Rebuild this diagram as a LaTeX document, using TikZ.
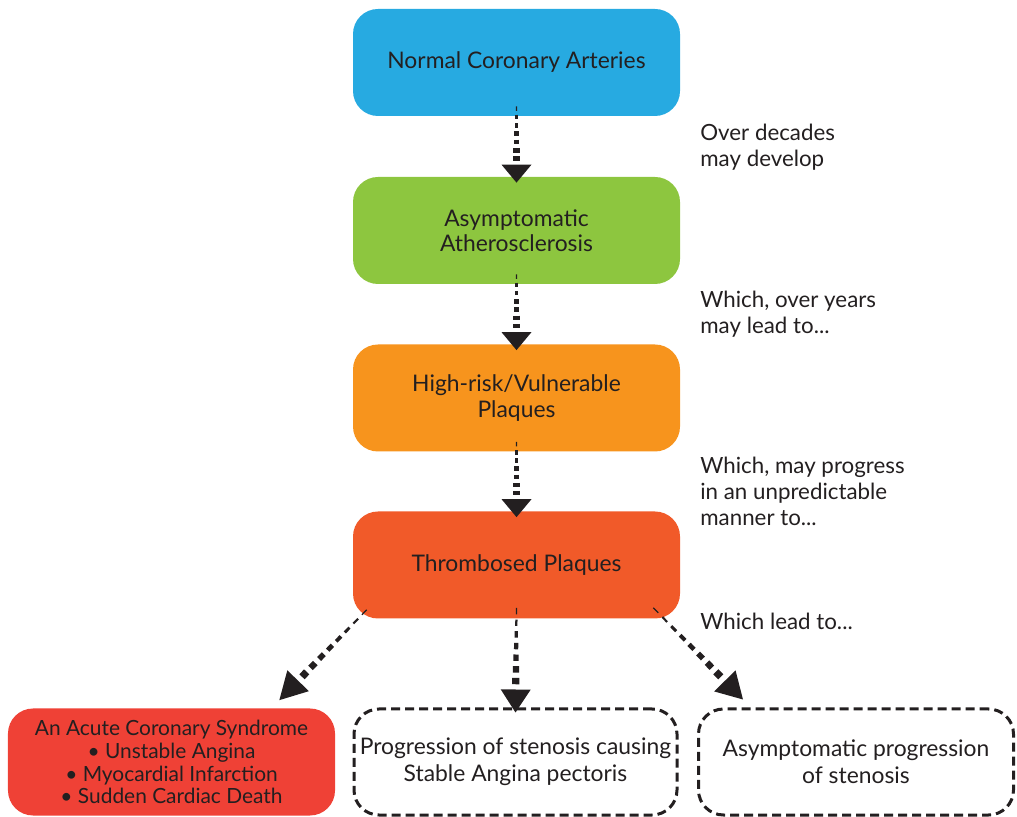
\documentclass[tikz,border=0pt]{standalone}
\usepackage{fontspec}
\setmainfont{Lato}
\usetikzlibrary{calc}

\definecolor{ink}{HTML}{231F20}
\definecolor{skyblue}{HTML}{27AAE1}
\definecolor{leafgreen}{HTML}{8DC63F}
\definecolor{amber}{HTML}{F7941D}
\definecolor{clotred}{HTML}{F15A29}
\definecolor{acutered}{HTML}{EF4136}

% dashed connector whose dashes thicken towards a solid triangular head
% #1 start, #2 tip, #3 number of dashes, #4 head length
\newcommand\taperedarrow[4]{%
  \coordinate (hb) at ($(#2)!#4!(#1)$);
  \pgfmathtruncatemacro\lastdash{#3-1}
  \foreach \k in {0,...,\lastdash}{
    \pgfmathsetmacro\lw{0.25+1.2*\k/\lastdash}
    \pgfmathsetmacro\fa{\k/#3}
    \pgfmathsetmacro\fb{(\k+0.55)/#3}
    \draw[ink, line width=\lw mm] ($(#1)!\fa!(hb)$) -- ($(#1)!\fb!(hb)$);
  }
  \fill[ink] (#2) -- ($(hb)!3mm!90:(#2)$) -- ($(hb)!3mm!-90:(#2)$) -- cycle;
}

\tikzset{
  stage/.style={rectangle, rounded corners=5mm, minimum width=65.4mm,
    minimum height=21.4mm, inner sep=0pt, align=center, text=ink,
    font=\fontsize{13}{14.4}\selectfont},
  outcome/.style={stage, draw=ink, line width=0.6mm,
    dash pattern=on 1.8mm off 1mm, font=\fontsize{13}{15.2}\selectfont},
  note/.style={anchor=north west, inner sep=0pt, align=left, text=ink,
    font=\fontsize{12.7}{14.8}\selectfont}
}

\begin{document}
\begin{tikzpicture}[x=0.2mm, y=-0.2mm]
\useasboundingbox (0,0) rectangle (1017,817);

% main sequence
\node[stage, fill=skyblue]   (n1) at (516.5,62.5) {Normal Coronary Arteries};
\node[stage, fill=leafgreen] (n2) at (516.5,230.5) {Asymptomatic\\Atherosclerosis};
\node[stage, fill=amber]     (n3) at (516.5,398) {High-risk/Vulnerable\\Plaques};
\node[stage, fill=clotred]   (n4) at (516.5,565) {Thrombosed Plaques};

% outcomes
\node[stage, fill=acutered, font=\fontsize{11.9}{13}\selectfont] (n5) at (171.5,762)
  {An Acute Coronary Syndrome\\\textbullet{} Unstable Angina\\\textbullet{} Myocardial Infarction\\\textbullet{} Sudden Cardiac Death};
\node[outcome, minimum width=64.6mm, minimum height=21.2mm] (n6) at (515.5,762)
  {Progression of stenosis causing\\Stable Angina pectoris};
\node[outcome, minimum width=63.0mm, minimum height=21.2mm] (n7) at (856,762)
  {Asymptomatic progression\\of stenosis};

% side notes
\node[note] (t1) at (700,124) {Over decades\\may develop};
\node[note] (t2) at (700,291) {Which, over years\\may lead to...};
\node[note] (t3) at (700,457) {Which, may progress\\in an unpredictable\\manner to...};
\node[note] (t4) at (700,613) {Which lead to...};

% connectors
\coordinate (a1) at ($(n1.south)+(0,-10)$);
\coordinate (b1) at ($(n2.north)+(0,6)$);
\coordinate (a2) at ($(n2.south)+(0,-10)$);
\coordinate (b2) at ($(n3.north)+(0,6)$);
\coordinate (a3) at ($(n3.south)+(0,-10)$);
\coordinate (b3) at ($(n4.north)+(0,6)$);
\coordinate (a4) at ($(n4.south west)+(14,-9)$);
\coordinate (b4) at ($(n5.north east)+(-56,-8)$);
\coordinate (a5) at ($(n4.south)+(0,-11)$);
\coordinate (b5) at ($(n6.north)+(0,5)$);
\coordinate (a6) at ($(n4.south east)+(-27,-11)$);
\coordinate (b6) at ($(n7.north west)+(46,-8)$);

\taperedarrow{a1}{b1}{7}{3.6mm}
\taperedarrow{a2}{b2}{7}{3.6mm}
\taperedarrow{a3}{b3}{7}{3.6mm}
\taperedarrow{a4}{b4}{8}{5.4mm}
\taperedarrow{a5}{b5}{7}{4.6mm}
\taperedarrow{a6}{b6}{8}{5.2mm}
\end{tikzpicture}
\end{document}
